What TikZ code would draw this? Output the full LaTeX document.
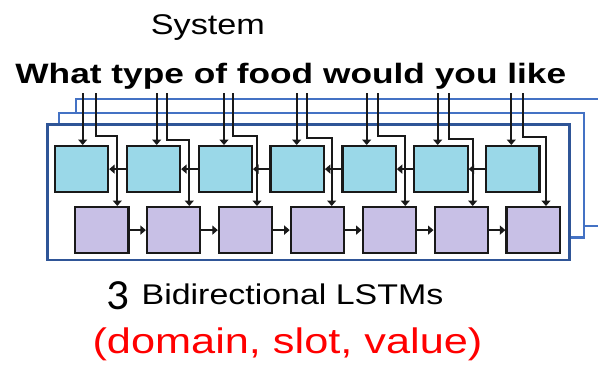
\documentclass[tikz,border=0pt]{standalone}
\usepackage{fontspec}
\setmainfont{Liberation Sans}
\newfontfamily\digitfont{Carlito}
\usetikzlibrary{arrows.meta}

\definecolor{cellblue}{RGB}{154,216,232}
\definecolor{cellpurple}{RGB}{200,192,230}
\definecolor{framedark}{RGB}{47,85,151}
\definecolor{framelight}{RGB}{68,114,196}
\definecolor{inkdark}{RGB}{25,25,25}

\begin{document}
\begin{tikzpicture}[x=1pt,y=-1pt,
  cell/.style={draw=inkdark,line width=2.2pt,inner sep=0pt,
    minimum width=53.3pt,minimum height=46pt,anchor=north west},
  fwdcell/.style={cell,fill=cellblue},
  bwdcell/.style={cell,fill=cellpurple},
  wire/.style={draw=inkdark,line width=1.9pt,
    -{Triangle[width=9pt,length=5.5pt]}},
  layerframe/.style={draw=framelight,line width=2.2pt,fill=white},
  frontframe/.style={draw=framedark,line width=2.6pt,fill=white},
  label/.style={inner sep=0pt,anchor=base}
]
\useasboundingbox (0,0) rectangle (598,365);
\clip (0,0) rectangle (598,365);

% stacked layer frames, back to front
\draw[layerframe] (76,98.7) rectangle (615,226.2);
\draw[layerframe] (59.3,112.7) rectangle (584,237.5);
\draw[frontframe] (47.7,124.7) rectangle (569.3,260);

% forward (top) and backward (bottom) cells
\foreach \i in {1,...,7}{
  \node[fwdcell] (c\i) at ({53.7+71.9*(\i-1)},145) {};
  \node[bwdcell] (p\i) at ({74+71.9*(\i-1)},206) {};
}

% word inputs: one straight feed to the top cell, one bent feed to the bottom cell
\foreach \i/\a/\b/\p/\j in {1/82.7/96/117.3/135.7, 2/156.7/166.7/189.3/140,
    3/224/233.3/257/135.7, 4/296.7/307.3/331.7/137.7, 5/366.7/377.7/405.3/135.7,
    6/437.7/448.7/472.7/139, 7/511.3/523.3/546/136.7}{
  \coordinate (wa\i) at (\a,93);
  \coordinate (wb\i) at (\b,93);
  \coordinate (k\i) at (\p,\j);
  \draw[wire] (wa\i) -- (wa\i |- c\i.north);
  \draw[wire] (wb\i) |- (k\i) -- (k\i |- p\i.north);
}

% recurrent connections
\foreach \i [evaluate=\i as \n using int(\i+1)] in {1,...,6}{
  \draw[wire] (c\n.west) -- (c\i.east);
  \draw[wire] (p\i.east) -- (p\n.west);
}

% texts
\node[label,font=\fontsize{28.5}{30}\selectfont] (sys) at (207.9,34.5)
  {\scalebox{1.2}[1]{System}};
\node[label,font=\fontsize{28}{30}\selectfont\bfseries] (utt) at (290.8,83.5)
  {\scalebox{1.26}[1]{What type of food would you like}};
\node[label,font=\digitfont\fontsize{43}{46}\selectfont] (num) at (118,309.3)
  {\scalebox{1.05}[1]{3}};
\node[label,font=\fontsize{28.5}{30}\selectfont] (lstm) at (292.5,304.5)
  {\scalebox{1.19}[1]{Bidirectional LSTMs}};
\node[label,text=red,font=\fontsize{35.5}{38}\selectfont] (dsv) at (287.5,353.5)
  {\scalebox{1.22}[1]{(domain, slot, value)}};
\end{tikzpicture}
\end{document}
